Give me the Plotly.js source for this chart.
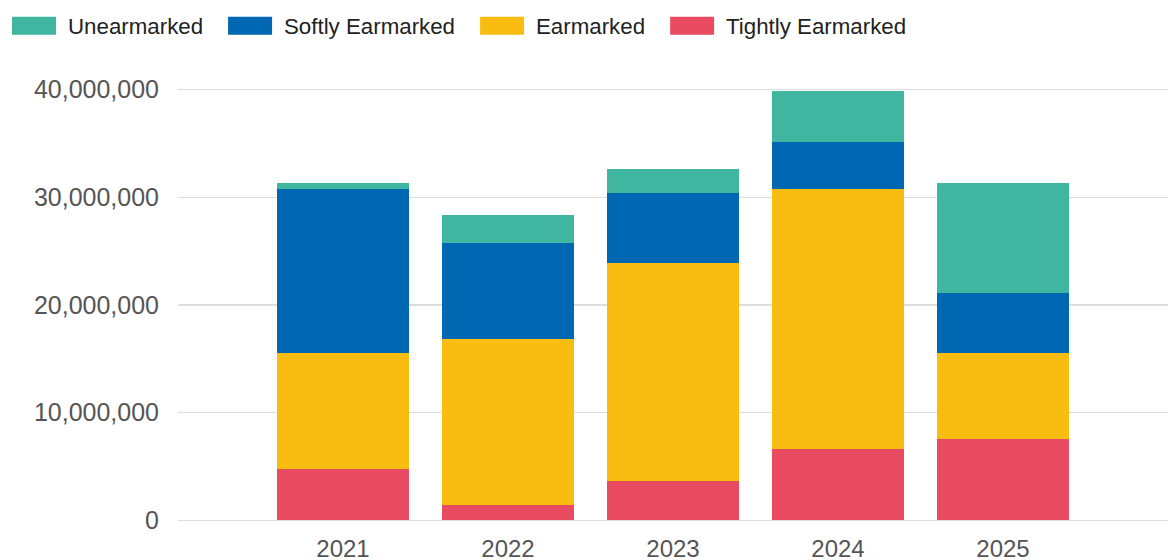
<!DOCTYPE html>
<html>
<head>
<meta charset="utf-8">
<script src="https://cdn.plot.ly/plotly-3.0.1.min.js"></script>
<style>
  html, body { margin: 0; padding: 0; background: #ffffff; }
  #chart { width: 1168px; height: 560px; }
</style>
</head>
<body>
<div id="chart"></div>
<script>
// ---- data ----
const years = ["2021", "2022", "2023", "2024", "2025"];
const tightlyEarmarked = [4800000, 1460000, 3650000, 6590000, 7550000];
const earmarked = [10730000, 15410000, 20240000, 24210000, 7980000];
const softlyEarmarked = [15270000, 8910000, 6500000, 4300000, 5610000];
const unearmarked = [560000, 2600000, 2230000, 4800000, 10180000];
const yTickValues = [0, 10000000, 20000000, 30000000, 40000000];
const yTickLabels = ["0", "10,000,000", "20,000,000", "30,000,000", "40,000,000"];

// ---- styling ----
const series = [
  { name: "Tightly Earmarked", values: tightlyEarmarked, color: "#e94b61" },
  { name: "Earmarked", values: earmarked, color: "#f9bc10" },
  { name: "Softly Earmarked", values: softlyEarmarked, color: "#0067b2" },
  { name: "Unearmarked", values: unearmarked, color: "#40b5a0" }
];

const W = 1168, H = 560;
const M = { l: 178, r: 0, t: 87.7, b: 38.4 };
const PW = W - M.l - M.r, PH = H - M.t - M.b;
const px2x = px => (px - M.l) / PW;
const px2y = py => (H - M.b - py) / PH;

const FONT = "Liberation Sans, Arial, sans-serif";

const traces = series.map(s => ({
  type: "bar",
  name: s.name,
  x: years,
  y: s.values,
  marker: { color: s.color, line: { width: 0 } },
  showlegend: false,
  hoverinfo: "x+y+name"
}));

// custom legend (large swatches), order as in reference
const legendOrder = ["Unearmarked", "Softly Earmarked", "Earmarked", "Tightly Earmarked"];
const ctx = document.createElement("canvas").getContext("2d");
ctx.font = "22.3px 'Liberation Sans'";
const shapes = [], annotations = [];
let cx = 12;
const swW = 44, swTop = 16.5, swBot = 34.5;
legendOrder.forEach(name => {
  const s = series.find(d => d.name === name);
  shapes.push({
    type: "rect", xref: "paper", yref: "paper",
    x0: px2x(cx), x1: px2x(cx + swW), y0: px2y(swBot), y1: px2y(swTop),
    fillcolor: s.color, line: { width: 0 }, layer: "above"
  });
  const tx = cx + swW + 10;
  annotations.push({
    xref: "paper", yref: "paper", x: px2x(tx), y: px2y(26),
    xanchor: "left", yanchor: "middle", showarrow: false,
    text: name, font: { family: FONT, size: 22.3, color: "#222222" }
  });
  const tw = ctx.measureText(name).width;
  cx = tx + tw + 27;
});

const layout = {
  width: W, height: H,
  margin: M,
  paper_bgcolor: "#ffffff",
  plot_bgcolor: "#ffffff",
  barmode: "stack",
  bargap: 0.2,
  showlegend: false,
  xaxis: {
    type: "category",
    range: [-1, 5],
    showgrid: false,
    zeroline: false,
    showline: false,
    ticks: "",
    ticklabelstandoff: 10,
    tickfont: { family: FONT, size: 24, color: "#555555" },
    fixedrange: true
  },
  yaxis: {
    range: [-150000, 40150000],
    tickvals: yTickValues,
    ticktext: yTickLabels,
    showgrid: true,
    gridcolor: "#dddddd",
    gridwidth: 1.5,
    zeroline: false,
    showline: false,
    ticks: "",
    ticklabelstandoff: 18,
    tickfont: { family: FONT, size: 25, color: "#555555" },
    fixedrange: true
  },
  shapes: shapes,
  annotations: annotations
};

Plotly.newPlot("chart", traces, layout, { displayModeBar: false, staticPlot: true });
</script>
</body>
</html>
